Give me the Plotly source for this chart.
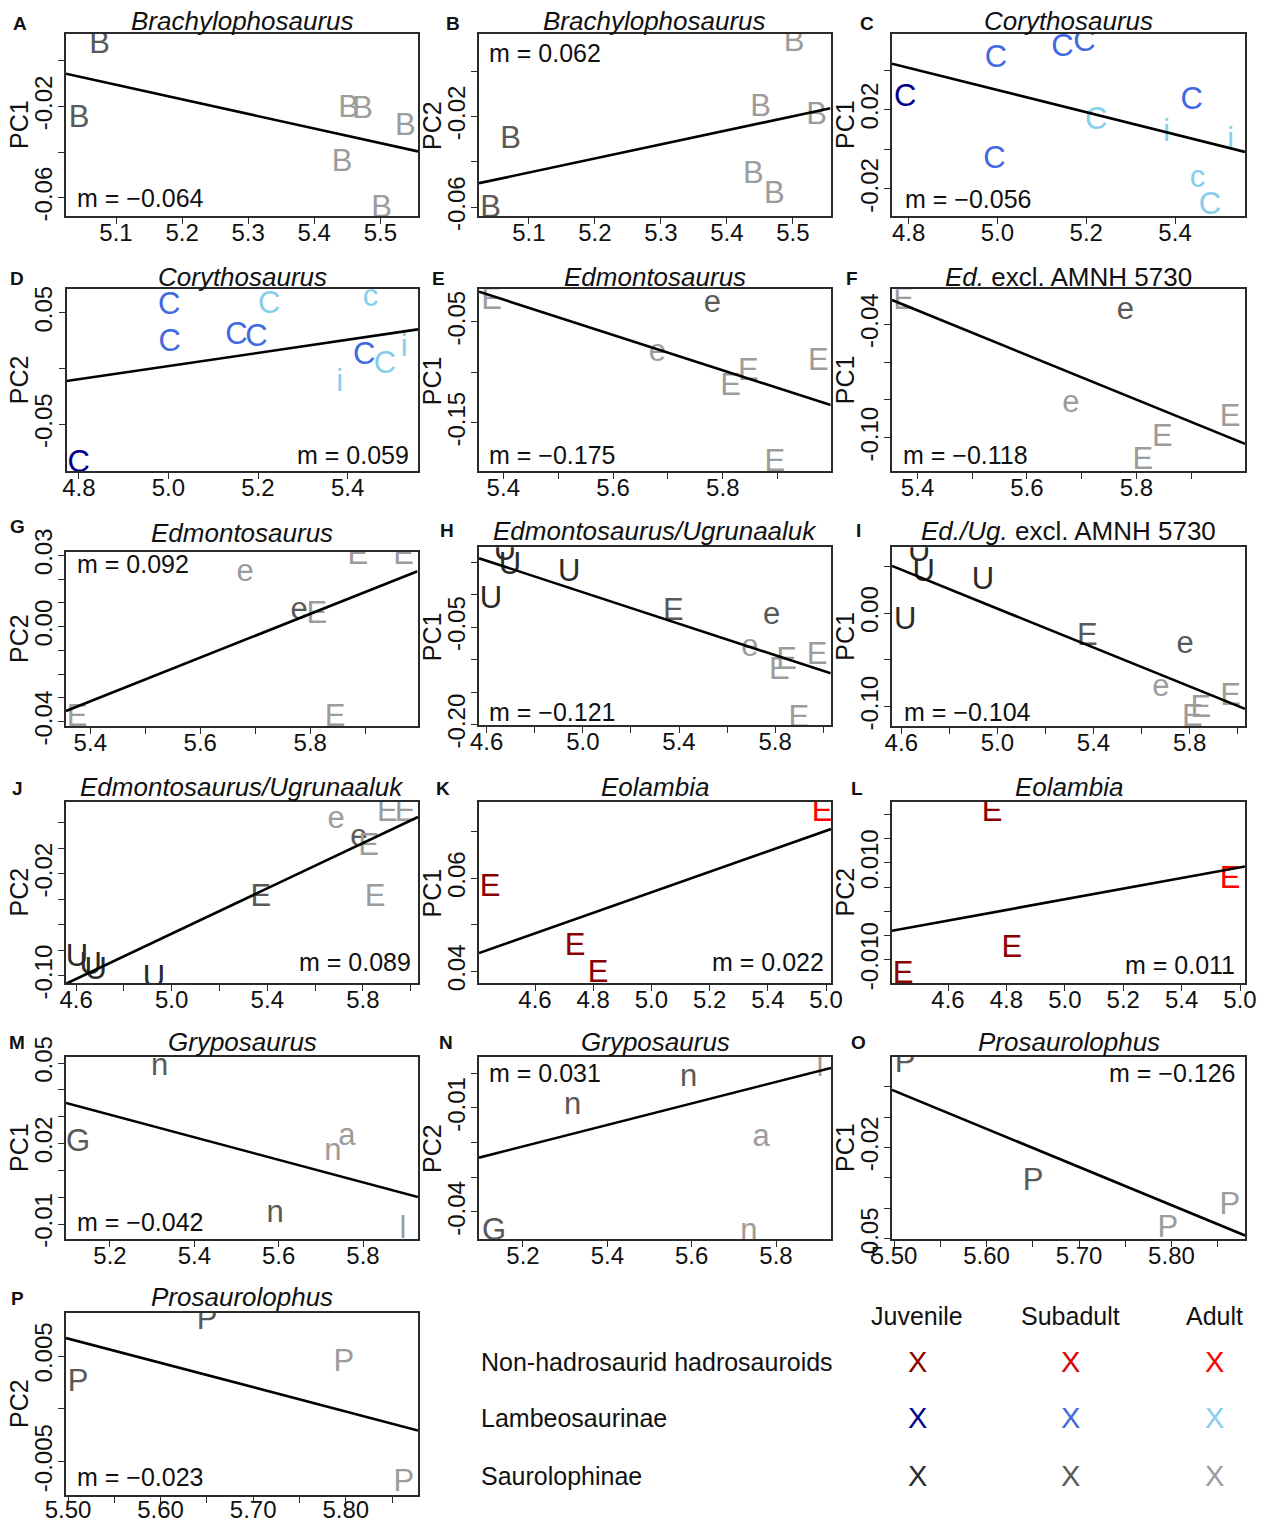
import plotly.graph_objects as go

W, H = 1263, 1524
FONT = "Liberation Sans, Arial, sans-serif"

# colour per clade/age class: N=non-hadrosaurid, L=Lambeosaurinae, S=Saurolophinae; 1 juvenile, 2 subadult, 3 adult
COLORS = {"N1": "#8b0000", "N2": "#dd0000", "N3": "#ff0000",
          "L1": "#00008b", "L2": "#4169e1", "L3": "#87ceeb",
          "S1": "#2b2b2b", "S2": "#595959", "S3": "#9c9c9c"}

# ---------------- data ----------------
A_x = [5.075, 5.044, 5.452, 5.473, 5.538, 5.442, 5.502]
A_y = [0.0068, -0.0254, -0.0210, -0.0218, -0.0289, -0.0451, -0.0651]
A_lab = ["B"] * 7
A_cls = ["S2", "S2", "S3", "S3", "S3", "S3", "S3"]

B_x = [5.502, 5.451, 5.536, 5.072, 5.440, 5.472, 5.042]
B_y = [0.0121, -0.0165, -0.0200, -0.0303, -0.0457, -0.0545, -0.0609]
B_lab = ["B"] * 7
B_cls = ["S3", "S3", "S3", "S2", "S3", "S3", "S2"]

C_x = [4.7925, 4.9966, 5.1465, 5.196, 5.4377, 5.2223, 5.3814, 5.5254, 4.9935, 5.4503, 5.4788]
C_y = [0.0259, 0.0452, 0.0511, 0.0533, 0.0242, 0.0141, 0.0083, 0.0040, -0.0056, -0.0153, -0.0289]
C_lab = ["C", "C", "C", "C", "C", "C", "i", "i", "C", "c", "C"]
C_cls = ["L1", "L2", "L2", "L2", "L2", "L3", "L3", "L3", "L2", "L3", "L3"]

D_x = [5.0015, 5.003, 5.2247, 5.4511, 5.152, 5.1966, 5.4368, 5.483, 5.526, 5.3825, 4.80]
D_y = [0.0554, 0.0226, 0.0569, 0.0634, 0.0291, 0.0271, 0.0106, 0.0031, 0.0181, -0.0133, -0.0858]
D_lab = ["C", "C", "C", "c", "C", "C", "C", "C", "i", "i", "C"]
D_cls = ["L2", "L2", "L3", "L3", "L2", "L2", "L2", "L3", "L3", "L3", "L1"]

E_x = [5.3788, 5.7808, 5.6806, 5.8464, 5.8143, 5.974, 5.895]
E_y = [-0.0302, -0.0328, -0.0813, -0.1001, -0.1144, -0.0902, -0.1902]
E_lab = ["E", "e", "e", "E", "E", "E", "E"]
E_cls = ["S3", "S2", "S3", "S3", "S3", "S3", "S3"]

F_x = [5.3745, 5.7799, 5.6802, 5.9714, 5.8474, 5.812]
F_y = [-0.028, -0.0333, -0.0823, -0.0897, -0.1003, -0.1127]
F_lab = ["E", "e", "e", "E", "E", "E"]
F_cls = ["S3", "S2", "S3", "S3", "S3", "S3"]

G_x = [5.6818, 5.8867, 5.9696, 5.78, 5.8122, 5.3758, 5.8454]
G_y = [0.0226, 0.0296, 0.0296, 0.0067, 0.0046, -0.0386, -0.0386]
G_lab = ["e", "E", "E", "e", "E", "E", "E"]
G_cls = ["S3", "S3", "S3", "S2", "S3", "S3", "S3"]

H_x = [4.6761, 4.6969, 4.9435, 4.6179, 5.3759, 5.785, 5.6948, 5.8474, 5.8167, 5.9747, 5.8985]
H_y = [0.0645, 0.043, 0.0329, -0.0092, -0.027, -0.0337, -0.0822, -0.1028, -0.1182, -0.0951, -0.1923]
H_lab = ["U", "U", "U", "U", "E", "e", "e", "E", "E", "E", "E"]
H_cls = ["S1", "S1", "S1", "S1", "S2", "S2", "S3", "S3", "S3", "S3", "S3"]

I_x = [4.6748, 4.6927, 4.9397, 4.6166, 5.3746, 5.7808, 5.6798, 5.9708, 5.8461, 5.8112]
I_y = [0.064, 0.0426, 0.0344, -0.009, -0.026, -0.0338, -0.08, -0.09, -0.1031, -0.112]
I_lab = ["U", "U", "U", "U", "E", "e", "e", "E", "E", "E"]
I_cls = ["S1", "S1", "S1", "S1", "S2", "S2", "S3", "S3", "S3", "S3"]

J_x = [5.6875, 5.9017, 5.9762, 5.7828, 5.8238, 5.3728, 5.8506, 4.6038, 4.6611, 4.6816, 4.9255]
J_y = [0.0221, 0.0278, 0.0278, 0.0077, 0.0007, -0.0392, -0.0392, -0.0862, -0.0928, -0.0967, -0.1032]
J_lab = ["e", "E", "E", "e", "E", "E", "E", "U", "U", "U", "U"]
J_cls = ["S3", "S3", "S3", "S2", "S3", "S2", "S3", "S1", "S1", "S1", "S1"]

K_x = [5.5863, 4.4454, 4.7375, 4.8165]
K_y = [0.0739, 0.0579, 0.0451, 0.0393]
K_lab = ["E"] * 4
K_cls = ["N3", "N1", "N1", "N1"]

L_x = [4.7507, 5.5658, 4.819, 4.4459]
L_y = [0.0203, 0.0065, -0.0079, -0.0131]
L_lab = ["E"] * 4
L_cls = ["N1", "N3", "N1", "N1"]

M_x = [5.3176, 5.1241, 5.7288, 5.762, 5.5913, 5.8948]
M_y = [0.0486, 0.0202, 0.0168, 0.0224, -0.0063, -0.0122]
M_lab = ["n", "G", "n", "a", "n", "l"]
M_cls = ["S2", "S2", "S3", "S3", "S2", "S3"]

N_x = [5.5925, 5.3179, 5.9043, 5.7644, 5.1312, 5.7359]
N_y = [-0.0014, -0.0096, 0.0015, -0.0187, -0.0457, -0.0457]
N_lab = ["n", "n", "l", "a", "G", "n"]
N_cls = ["S2", "S2", "S3", "S3", "S2", "S3"]

O_x = [5.5119, 5.6503, 5.8632, 5.7962]
O_y = [0.0074, -0.0315, -0.0395, -0.0470]
O_lab = ["P"] * 4
O_cls = ["S2", "S2", "S3", "S3"]

P_x = [5.6501, 5.798, 5.5108, 5.8628]
P_y = [0.00825, 0.00434, 0.00245, -0.00702]
P_lab = ["P"] * 4
P_cls = ["S2", "S3", "S2", "S3"]

# regression slopes (m) and intercepts
slopes = {"A": -0.064, "B": 0.062, "C": -0.056, "D": 0.059, "E": -0.175, "F": -0.118,
          "G": 0.092, "H": -0.121, "I": -0.104, "J": 0.089, "K": 0.022, "L": 0.011,
          "M": -0.042, "N": 0.031, "O": -0.126, "P": -0.023}
intercepts = {"A": 0.31593, "B": -0.36089, "C": 0.30991, "D": -0.29278, "E": 0.91695,
              "F": 0.60455, "G": -0.52822, "H": 0.60867, "I": 0.52481, "J": -0.51205,
              "K": -0.05303, "L": -0.05251, "M": 0.24912, "N": -0.18229, "O": 0.69178,
              "P": 0.13315}
m_text = {"A": "m = \u22120.064", "B": "m = 0.062", "C": "m = \u22120.056", "D": "m = 0.059",
          "E": "m = \u22120.175", "F": "m = \u22120.118", "G": "m = 0.092", "H": "m = \u22120.121",
          "I": "m = \u22120.104", "J": "m = 0.089", "K": "m = 0.022", "L": "m = 0.011",
          "M": "m = \u22120.042", "N": "m = 0.031", "O": "m = \u22120.126", "P": "m = \u22120.023"}
titles = {"A": "<i>Brachylophosaurus</i>", "B": "<i>Brachylophosaurus</i>",
          "C": "<i>Corythosaurus</i>", "D": "<i>Corythosaurus</i>",
          "E": "<i>Edmontosaurus</i>", "F": "<i>Ed.</i> excl. AMNH 5730",
          "G": "<i>Edmontosaurus</i>", "H": "<i>Edmontosaurus/Ugrunaaluk</i>",
          "I": "<i>Ed./Ug.</i> excl. AMNH 5730", "J": "<i>Edmontosaurus/Ugrunaaluk</i>",
          "K": "<i>Eolambia</i>", "L": "<i>Eolambia</i>", "M": "<i>Gryposaurus</i>",
          "N": "<i>Gryposaurus</i>", "O": "<i>Prosaurolophus</i>", "P": "<i>Prosaurolophus</i>"}
ytitles = {"A": "PC1", "B": "PC2", "C": "PC1", "D": "PC2", "E": "PC1", "F": "PC1", "G": "PC2",
           "H": "PC1", "I": "PC1", "J": "PC2", "K": "PC1", "L": "PC2", "M": "PC1", "N": "PC2",
           "O": "PC1", "P": "PC2"}

# tick values and labels
xt_AB = [5.1, 5.2, 5.3, 5.4, 5.5]; xl_AB = ["5.1", "5.2", "5.3", "5.4", "5.5"]
xt_CD = [4.8, 5.0, 5.2, 5.4]; xl_CD = ["4.8", "5.0", "5.2", "5.4"]
xt_EFG = [5.4, 5.5, 5.6, 5.7, 5.8, 5.9]; xl_EFG = ["5.4", "", "5.6", "", "5.8", ""]
xt_HIJ = [4.6, 4.8, 5.0, 5.2, 5.4, 5.6, 5.8, 6.0]; xl_HIJ = ["4.6", "", "5.0", "", "5.4", "", "5.8", ""]
xt_KL = [4.6, 4.8, 5.0, 5.2, 5.4, 5.6]; xl_KL = ["4.6", "4.8", "5.0", "5.2", "5.4", "5.0"]
xt_MN = [5.2, 5.4, 5.6, 5.8]; xl_MN = ["5.2", "5.4", "5.6", "5.8"]
xt_OP = [5.50, 5.55, 5.60, 5.65, 5.70, 5.75, 5.80, 5.85]; xl_OP = ["5.50", "", "5.60", "", "5.70", "", "5.80", ""]

yt = {"A": [0.0, -0.02, -0.04, -0.06], "B": [0.0, -0.02, -0.04, -0.06],
      "C": [0.04, 0.02, 0.0, -0.02], "D": [0.05, 0.0, -0.05],
      "E": [-0.05, -0.10, -0.15], "F": [-0.04, -0.06, -0.08, -0.10],
      "G": [0.03, 0.02, 0.01, 0.0, -0.01, -0.02, -0.03, -0.04],
      "H": [0.05, 0.0, -0.05, -0.10, -0.15, -0.20], "I": [0.05, 0.0, -0.05, -0.10],
      "J": [0.02, 0.0, -0.02, -0.04, -0.06, -0.08, -0.10],
      "K": [0.07, 0.06, 0.05, 0.04], "L": [0.020, 0.015, 0.010, 0.005, 0.0, -0.005, -0.010],
      "M": [0.05, 0.04, 0.03, 0.02, 0.01, 0.0, -0.01], "N": [0.0, -0.01, -0.02, -0.03, -0.04],
      "O": [0.0, -0.01, -0.02, -0.03, -0.04, -0.05], "P": [0.005, 0.0, -0.005]}
yl = {"A": ["", "-0.02", "", "-0.06"], "B": ["", "-0.02", "", "-0.06"],
      "C": ["", "0.02", "", "-0.02"], "D": ["0.05", "", "-0.05"],
      "E": ["-0.05", "", "-0.15"], "F": ["-0.04", "", "", "-0.10"],
      "G": ["0.03", "", "", "0.00", "", "", "", "-0.04"],
      "H": ["", "", "-0.05", "", "", "-0.20"], "I": ["", "0.00", "", "-0.10"],
      "J": ["", "", "-0.02", "", "", "", "-0.10"],
      "K": ["", "0.06", "", "0.04"], "L": ["", "", "0.010", "", "", "", "-0.010"],
      "M": ["0.05", "", "", "0.02", "", "", "-0.01"], "N": ["", "-0.01", "", "", "-0.04"],
      "O": ["", "", "-0.02", "", "", "-0.05"], "P": ["0.005", "", "-0.005"]}

legend_rows = ["Non-hadrosaurid hadrosauroids", "Lambeosaurinae", "Saurolophinae"]
legend_cols = ["Juvenile", "Subadult", "Adult"]
legend_cls = [["N1", "N2", "N3"], ["L1", "L2", "L3"], ["S1", "S2", "S3"]]

# ---------------- layout settings (pixel boxes, ranges) ----------------
panels = [
    dict(k="A", x=A_x, y=A_y, lab=A_lab, cls=A_cls, box=(66, 418, 34, 216), xr=[5.0243, 5.557], yr=[-0.06804, 0.01182], xt=xt_AB, xl=xl_AB, mp=(0.026, 0.10, "left")),
    dict(k="B", x=B_x, y=B_y, lab=B_lab, cls=B_cls, box=(479, 830.5, 34, 216), xr=[5.0243, 5.557], yr=[-0.06384, 0.01635], xt=xt_AB, xl=xl_AB, mp=(0.022, 0.894, "left")),
    dict(k="C", x=C_x, y=C_y, lab=C_lab, cls=C_cls, box=(892, 1245, 34, 216), xr=[4.7626, 5.5575], yr=[-0.03362, 0.05817], xt=xt_CD, xl=xl_CD, mp=(0.032, 0.092, "left")),
    dict(k="D", x=D_x, y=D_y, lab=D_lab, cls=D_cls, box=(66.5, 418, 289.3, 471), xr=[4.7725, 5.557], yr=[-0.0918, 0.071], xt=xt_CD, xl=xl_CD, mp=(0.979, 0.088, "right")),
    dict(k="E", x=E_x, y=E_y, lab=E_lab, cls=E_cls, box=(479, 830.7, 289.3, 471), xr=[5.3557, 5.9966], yr=[-0.1978, -0.0179], xt=xt_EFG, xl=xl_EFG, mp=(0.022, 0.088, "left")),
    dict(k="F", x=F_x, y=F_y, lab=F_lab, cls=F_cls, box=(892, 1245, 289.3, 471), xr=[5.3533, 5.9985], yr=[-0.1176, -0.02148], xt=xt_EFG, xl=xl_EFG, mp=(0.025, 0.088, "left")),
    dict(k="G", x=G_x, y=G_y, lab=G_lab, cls=G_cls, box=(66, 417.5, 552, 726), xr=[5.3558, 5.9951], yr=[-0.04181, 0.03143], xt=xt_EFG, xl=xl_EFG, mp=(0.026, 0.929, "left")),
    dict(k="H", x=H_x, y=H_y, lab=H_lab, cls=H_cls, box=(479, 830.7, 547.3, 725), xr=[4.568, 6.0308], yr=[-0.2005, 0.0728], xt=xt_HIJ, xl=xl_HIJ, mp=(0.022, 0.075, "left")),
    dict(k="I", x=I_x, y=I_y, lab=I_lab, cls=I_cls, box=(892, 1245, 547.3, 726), xr=[4.5613, 6.0303], yr=[-0.1206, 0.07036], xt=xt_HIJ, xl=xl_HIJ, mp=(0.027, 0.08, "left")),
    dict(k="J", x=J_x, y=J_y, lab=J_lab, cls=J_cls, box=(66, 418, 802, 983), xr=[4.5577, 6.0305], yr=[-0.1058, 0.0364], xt=xt_HIJ, xl=xl_HIJ, mp=(0.986, 0.118, "right")),
    dict(k="K", x=K_x, y=K_y, lab=K_lab, cls=K_cls, box=(479, 831, 802, 983), xr=[4.4076, 5.617], yr=[0.03752, 0.07636], xt=xt_KL, xl=xl_KL, mp=(0.986, 0.118, "right")),
    dict(k="L", x=L_x, y=L_y, lab=L_lab, cls=L_cls, box=(892, 1245, 802, 983), xr=[4.4082, 5.617], yr=[-0.0148, 0.02258], xt=xt_KL, xl=xl_KL, mp=(0.977, 0.10, "right")),
    dict(k="M", x=M_x, y=M_y, lab=M_lab, cls=M_cls, box=(66, 418, 1057, 1239), xr=[5.0957, 5.9304], yr=[-0.01559, 0.05224], xt=xt_MN, xl=xl_MN, mp=(0.026, 0.093, "left")),
    dict(k="N", x=N_x, y=N_y, lab=N_lab, cls=N_cls, box=(479, 831, 1057, 1239), xr=[5.0957, 5.9304], yr=[-0.04779, 0.00471], xt=xt_MN, xl=xl_MN, mp=(0.023, 0.912, "left")),
    dict(k="O", x=O_x, y=O_y, lab=O_lab, cls=O_cls, box=(892, 1245, 1057, 1239), xr=[5.4978, 5.8795], yr=[-0.0502, 0.0099], xt=xt_OP, xl=xl_OP, mp=(0.977, 0.912, "right")),
    dict(k="P", x=P_x, y=P_y, lab=P_lab, cls=P_cls, box=(66, 418, 1313, 1495), xr=[5.4978, 5.878], yr=[-0.00815, 0.00907], xt=xt_OP, xl=xl_OP, mp=(0.026, 0.099, "left")),
]
# panel-letter and title pixel positions
letter_pos = {"A": (20, 23), "B": (453, 23), "C": (867, 23), "D": (17, 278), "E": (439, 278),
              "F": (852, 278), "G": (17, 526), "H": (447, 530), "I": (858, 530), "J": (17, 788),
              "K": (443, 788), "L": (857, 788), "M": (17, 1042), "N": (446, 1042), "O": (858, 1042),
              "P": (17, 1298)}
title_y = {"A": 21, "B": 21, "C": 21, "D": 277, "E": 277, "F": 277, "G": 533, "H": 531, "I": 531,
           "J": 787, "K": 787, "L": 787, "M": 1042, "N": 1042, "O": 1042, "P": 1297}
col_title_x = {66: 19, 66.5: 19, 479: 432, 892: 845}

fig = go.Figure()
layout = dict(width=W, height=H, margin=dict(l=0, r=0, t=0, b=0, pad=0, autoexpand=False),
              autosize=False, paper_bgcolor="white", plot_bgcolor="white", showlegend=False,
              font=dict(family=FONT, color="#111"))
ann = []

def px(xp):
    return xp / W

def py(yp):
    return 1 - yp / H

for i, p in enumerate(panels):
    n = i + 1
    sfx = "" if n == 1 else str(n)
    xa, ya = "x" + sfx, "y" + sfx
    x0, x1, y0, y1 = p["box"]
    k = p["k"]
    axis_common = dict(showline=True, mirror=True, linecolor="#2a2a2a", linewidth=1.6,
                       ticks="outside", ticklen=6, tickwidth=1.3, tickcolor="#2a2a2a",
                       showgrid=False, zeroline=False, tickmode="array", automargin=False,
                       tickfont=dict(size=24, family=FONT, color="#111"), fixedrange=True)
    layout["xaxis" + sfx] = dict(axis_common, domain=[px(x0), px(x1)], range=p["xr"], anchor=ya,
                                 tickvals=p["xt"], ticktext=p["xl"],
                                 ticklabelstandoff=(-14 if k == "P" else -12))
    layout["yaxis" + sfx] = dict(axis_common, domain=[py(y1), py(y0)], range=p["yr"], anchor=xa,
                                 tickvals=yt[k], ticktext=yl[k], tickangle=-90, ticklabelstandoff=-3)
    # points as letters
    fig.add_trace(go.Scatter(x=p["x"], y=p["y"], mode="text", text=p["lab"],
                             textposition="middle center",
                             textfont=dict(size=31, family=FONT, color=[COLORS[c] for c in p["cls"]]),
                             xaxis=xa, yaxis=ya, cliponaxis=True, hoverinfo="skip"))
    # regression line across the panel
    m, b = slopes[k], intercepts[k]
    xr0, xr1 = p["xr"]
    fig.add_trace(go.Scatter(x=[xr0, xr1], y=[b + m * xr0, b + m * xr1], mode="lines",
                             line=dict(color="black", width=2.6), xaxis=xa, yaxis=ya,
                             cliponaxis=True, hoverinfo="skip"))
    # slope text
    mx, my, anc = p["mp"]
    ann.append(dict(text=m_text[k], x=mx, y=my, xref=xa + " domain", yref=ya + " domain",
                    xanchor=anc, yanchor="middle", showarrow=False,
                    font=dict(size=25, family=FONT, color="#111")))
    # title
    ann.append(dict(text=titles[k], x=px((x0 + x1) / 2), y=py(title_y[k]), xref="paper", yref="paper",
                    xanchor="center", yanchor="middle", showarrow=False,
                    font=dict(size=26, family=FONT, color="#111")))
    # panel letter
    lx, ly = letter_pos[k]
    ann.append(dict(text="<b>" + k + "</b>", x=px(lx), y=py(ly), xref="paper", yref="paper",
                    xanchor="center", yanchor="middle", showarrow=False,
                    font=dict(size=19, family=FONT, color="#111")))
    # y-axis title
    ann.append(dict(text=ytitles[k], x=px(col_title_x[x0]), y=py((y0 + y1) / 2), xref="paper",
                    yref="paper", xanchor="center", yanchor="middle", textangle=-90,
                    showarrow=False, font=dict(size=25, family=FONT, color="#111")))

# legend block
col_x = [917, 1070, 1214]
row_y = [1362, 1418, 1476]
for cx, name in zip(col_x, legend_cols):
    ann.append(dict(text=name, x=px(cx), y=py(1316), xref="paper", yref="paper", xanchor="center",
                    yanchor="middle", showarrow=False, font=dict(size=25, family=FONT, color="#111")))
for ry, name, row in zip(row_y, legend_rows, legend_cls):
    ann.append(dict(text=name, x=px(479), y=py(ry), xref="paper", yref="paper", xanchor="left",
                    yanchor="middle", showarrow=False, font=dict(size=25, family=FONT, color="#111")))
    for cx, c in zip(col_x, row):
        ann.append(dict(text="X", x=px(cx), y=py(ry), xref="paper", yref="paper", xanchor="center",
                        yanchor="middle", showarrow=False, font=dict(size=29, family=FONT, color=COLORS[c])))

layout["annotations"] = ann
fig.update_layout(**layout)
fig.write_html("out.html", config={"displayModeBar": False},
               post_script="document.body.style.margin='0';document.body.style.overflow='hidden';")
